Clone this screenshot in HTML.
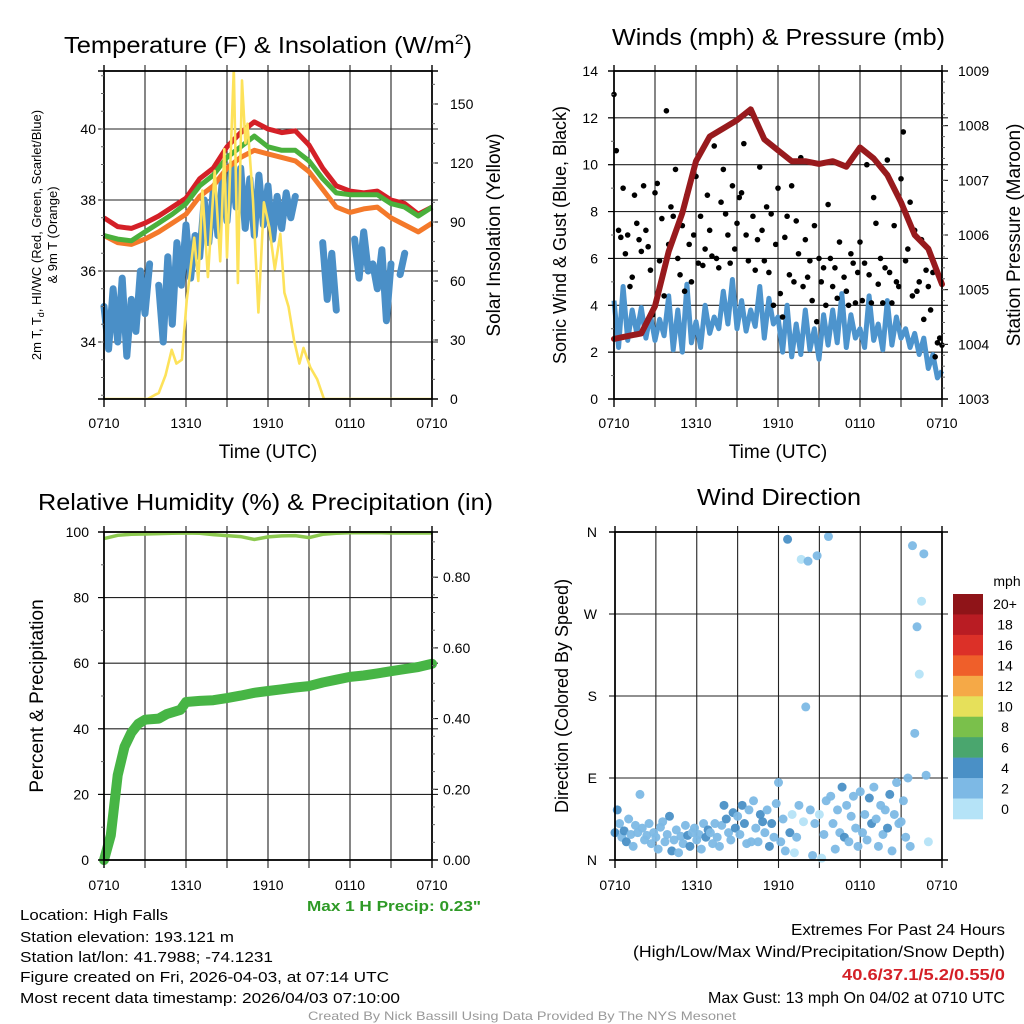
<!DOCTYPE html>
<html><head><meta charset="utf-8"><title>Mesonet Meteogram</title>
<style>
html,body{margin:0;padding:0;background:#fff;}
svg{display:block;font-family:"Liberation Sans",Arial,sans-serif;}
</style></head>
<body>
<svg id="chart" width="1024" height="1024" viewBox="0 0 1024 1024" xmlns="http://www.w3.org/2000/svg">
<rect width="1024" height="1024" fill="#fff"/>
<g id="bg"></g>
<g id="marks"></g>
<g id="axes"></g>
<!-- titles -->
<text x="64" y="53" font-size="23" textLength="408" lengthAdjust="spacingAndGlyphs">Temperature (F) &amp; Insolation (W/m<tspan dy="-9" font-size="14">2</tspan><tspan dy="9">)</tspan></text>
<text x="612" y="45" font-size="23" textLength="333" lengthAdjust="spacingAndGlyphs">Winds (mph) &amp; Pressure (mb)</text>
<text x="38" y="510" font-size="23" textLength="455" lengthAdjust="spacingAndGlyphs">Relative Humidity (%) &amp; Precipitation (in)</text>
<text x="697" y="505" font-size="23" textLength="164" lengthAdjust="spacingAndGlyphs">Wind Direction</text>
<!-- axis titles -->
<text transform="translate(41,235) rotate(-90)" text-anchor="middle" font-size="13">2m T, T<tspan font-size="9" dy="3">d</tspan><tspan dy="-3">, HI/WC (Red, Green, Scarlet/Blue)</tspan></text>
<text transform="translate(57,235) rotate(-90)" text-anchor="middle" font-size="13">&amp; 9m T (Orange)</text>
<text transform="translate(500,235) rotate(-90)" text-anchor="middle" font-size="19">Solar Insolation (Yellow)</text>
<text transform="translate(566,235) rotate(-90)" text-anchor="middle" font-size="18">Sonic Wind &amp; Gust (Blue, Black)</text>
<text transform="translate(1020,235) rotate(-90)" text-anchor="middle" font-size="19">Station Pressure (Maroon)</text>
<text transform="translate(43,696) rotate(-90)" text-anchor="middle" font-size="19">Percent &amp; Precipitation</text>
<text transform="translate(568,696) rotate(-90)" text-anchor="middle" font-size="18">Direction (Colored By Speed)</text>
<text x="268" y="458" text-anchor="middle" font-size="19">Time (UTC)</text>
<text x="778" y="458" text-anchor="middle" font-size="19">Time (UTC)</text>
<!-- footer -->
<g font-size="15">
<text x="20" y="920" textLength="148" lengthAdjust="spacingAndGlyphs">Location: High Falls</text>
<text x="20" y="942" textLength="214" lengthAdjust="spacingAndGlyphs">Station elevation: 193.121 m</text>
<text x="20" y="962" textLength="253" lengthAdjust="spacingAndGlyphs">Station lat/lon: 41.7988; -74.1231</text>
<text x="20" y="982" textLength="369" lengthAdjust="spacingAndGlyphs">Figure created on Fri, 2026-04-03, at 07:14 UTC</text>
<text x="20" y="1003" textLength="380" lengthAdjust="spacingAndGlyphs">Most recent data timestamp: 2026/04/03 07:10:00</text>
</g>
<text x="307" y="911" font-size="15" font-weight="bold" fill="#2e9a26" textLength="174" lengthAdjust="spacingAndGlyphs">Max 1 H Precip: 0.23"</text>
<text x="791" y="935" font-size="16" textLength="214" lengthAdjust="spacingAndGlyphs">Extremes For Past 24 Hours</text>
<text x="633" y="957" font-size="16" textLength="372" lengthAdjust="spacingAndGlyphs">(High/Low/Max Wind/Precipitation/Snow Depth)</text>
<text x="842" y="980" font-size="16" font-weight="bold" fill="#d42027" textLength="163" lengthAdjust="spacingAndGlyphs">40.6/37.1/5.2/0.55/0</text>
<text x="708" y="1003" font-size="16" textLength="297" lengthAdjust="spacingAndGlyphs">Max Gust: 13 mph On 04/02 at 0710 UTC</text>
<text x="308" y="1020" font-size="12" fill="#999" textLength="428" lengthAdjust="spacingAndGlyphs">Created By Nick Bassill Using Data Provided By The NYS Mesonet</text>
</svg>
<script>
// ---------- data ----------
const hourly = [0,1,2,3,4,5,6,7,8,9,10,11,12,13,14,15,16,17,18,19,20,21,22,23,24];
const xTickLabels = ["0710","1310","1910","0110","0710"];
const tempRed = [37.5,37.25,37.2,37.35,37.55,37.8,38.05,38.6,38.9,39.5,39.9,40.2,40.0,39.9,39.95,39.55,38.9,38.4,38.25,38.2,38.25,38.0,37.9,37.6,37.8];
const tempGreen = [37.0,36.9,36.85,37.1,37.35,37.6,37.9,38.4,38.7,39.2,39.5,39.8,39.5,39.4,39.4,39.1,38.6,38.2,38.15,38.15,38.15,37.9,37.8,37.55,37.8];
const tempOrange = [37.0,36.8,36.75,36.9,37.1,37.35,37.6,38.1,38.4,38.9,39.2,39.4,39.3,39.2,39.1,38.8,38.3,37.8,37.65,37.75,37.8,37.5,37.3,37.1,37.35];
const dewBlue = [35.0,33.8,35.5, 34.0,35.8,33.6, 35.2,34.3,36.0, 34.8,36.2,null, 35.6,34.0,36.4, 34.5,36.8,35.6, 37.3,35.8,37.0, 36.4,38.0,36.8, 38.3,37.0,38.6, 37.4,39.0,37.8, 38.9,37.2,38.6, 37.0,38.7,37.3, 38.4,36.9,38.1, 37.2,38.2,37.5, 38.1,null,null, null,null,null, 36.8,35.2,36.5, 34.9,null,37.0, null,36.9,35.8, 37.1,36.0,36.2, 35.5,36.6,34.6, 36.2,null,35.9, 36.5,null,null, null,null,null, null];
const solarHours = [0,3.2,3.7,4.0,4.5,4.95,5.3,5.7,6.05,6.6,6.9,7.2,7.6,8.1,8.5,8.8,9.0,9.5,9.8,10.1,10.35,10.5,10.9,11.3,11.7,12.1,12.5,12.9,13.2,13.5,13.9,14.3,14.6,15.1,15.6,16.1,24];
const solarVals = [0,0,2,3,12,25,18,20,50,82,60,106,62,116,70,127,72,168,59,162,130,140,101,44,100,87,66,84,54,47,30,18,26,16,10,0,0];
const sonicWind = [4.2,2.2,4.8,2.5,3.8,2.8,3.9,2.6,3.6,2.5,3.4,2.7, 4.4,2.1,3.8,2.0,4.9,2.4,3.3,2.2,4.0,2.8,3.5,3.0, 4.6,3.2,5.1,3.0,4.2,2.9,3.8,3.1,4.8,2.6,4.3,3.2, 3.5,2.0,4.0,1.8,3.2,1.9,3.8,2.1,3.0,1.7,3.6,2.3, 3.8,2.4,4.5,2.2,3.6,2.6,3.0,2.2,4.4,2.5,3.2,2.1, 4.2,2.3,3.5,2.6,3.0,2.2,2.8,1.9,2.6,1.3,1.9,0.9,1.2];
const gusts = [13.0,10.6,7.2,6.9,9.0,6.2, 7.0,4.8,5.2,8.7,7.5,6.8, 6.3,9.1,7.2,6.5,5.5,3.6, 8.8,9.2,5.9,7.7,4.4,12.3, 6.6,8.2,7.8,9.8,6.0,5.3, 7.4,4.6,8.7,6.6,5.0,7.0, 9.5,5.8,7.8,5.7,6.4,8.7, 7.2,6.1,10.8,6.0,5.6,8.4, 9.8,7.9,7.0,5.8,9.1,6.4, 7.5,8.6,8.8,10.9,7.0,5.9, 12.2,7.8,5.5,6.8,9.9,7.2, 5.9,8.2,5.4,7.9,4.0,6.6, 9.0,4.5,3.5,6.9,7.8,5.3, 9.1,5.0,7.6,6.2,10.3,4.8, 6.8,5.2,5.9,4.2,7.4,3.3, 6.0,5.0,5.6,4.0,8.3,6.0, 4.8,5.6,4.3,6.7,10.0,5.2, 4.6,4.0,6.2,5.8,4.1,5.4, 6.7,4.2,5.8,10.0,5.3,4.1, 8.6,7.5,4.9,6.0,4.1,5.6, 10.2,5.4,4.1,7.4,5.0,4.8, 9.4,11.4,5.9,6.4,8.4,4.4, 7.2,4.6,5.0,6.8,3.4,5.5, 4.8,3.8,5.4,1.8,2.4,2.6, 2.3];
const pressure = [1004.1,1004.15,1004.2,1004.7,1005.7,1006.4,1007.35,1007.8,1007.95,1008.1,1008.3,1007.75,1007.55,1007.35,1007.35,1007.3,1007.35,1007.25,1007.6,1007.4,1007.1,1006.6,1006.0,1005.75,1005.1];
const humidity = [98.0,99.0,99.3,99.4,99.5,99.6,99.7,99.6,99.2,98.9,98.6,97.7,98.5,98.8,98.9,98.3,99.3,99.6,99.8,99.8,99.8,99.7,99.7,99.7,99.7];
const precipHours = [0,0.5,1,1.5,2,2.5,3,4,4.6,5.6,6,7,8,9,10,11,12,13,14,15,16,17,18,19,20,21,22,23,24];
const precipVals = [0,0.07,0.24,0.32,0.36,0.385,0.397,0.40,0.413,0.425,0.447,0.45,0.452,0.458,0.465,0.473,0.478,0.483,0.488,0.492,0.502,0.51,0.518,0.522,0.528,0.534,0.54,0.546,0.555];
const windDirs = [30,55,40,25,32,20, 45,28,15,38,30,72, 35,22,27,40,18,30, 25,12,36,42,20,28, 48,10,22,33,8,26, 18,38,27,15,30,35, 22,28,12,40,25,33, 30,18,40,25,15,38, 60,45,30,22,52,35, 48,28,60,40,18,55, 20,65,35,20,50,42, 30,55,15,40,25,62, 85,20,45,10,352,30, 50,8,25,60,330,42, 168,328,55,5,40,334, 50,2,28,65,355,70, 40,12,55,30,80,25, 60,20,48,70,35,15, 75,30,50,22,68,40, 80,45,15,60,28,55, 35,72,10,50,85,40, 42,65,25,90,15,345, 139,256,204,284,336,93, 20];
const speedLabels = ["20+","18","16","14","12","10","8","6","4","2","0"];
const speedColors = ["#8f1418","#b91c23","#dc3028","#ef5f2a","#f5a947","#e6e05a","#7ac04b","#4aa66e","#4a90c6","#7db9e5","#b5e3f7"];

// ---------- helpers ----------
const NS = "http://www.w3.org/2000/svg";
const bg = document.getElementById("bg"), marks = document.getElementById("marks"), axes = document.getElementById("axes");
function mk(tag, parent, attrs){const e=document.createElementNS(NS,tag);for(const k in attrs)e.setAttribute(k,attrs[k]);parent.appendChild(e);return e;}
function lin(d0,d1,r0,r1){return v=>r0+(v-d0)*(r1-r0)/(d1-d0);}
function pathFrom(xsArr, ysArr, xf, yf){let d="",pen=false;for(let i=0;i<ysArr.length;i++){const v=ysArr[i];if(v===null||v===undefined){pen=false;continue;}d+=(pen?"L":"M")+xf(xsArr[i]).toFixed(1)+","+yf(v).toFixed(1);pen=true;}return d;}
function idxHours(n, step){const a=[];for(let i=0;i<n;i++)a.push(i*step);return a;}

function frame(P, name, hGridYs){
  const X=P.x0, Y=P.y0, W=P.x1-P.x0, H=P.y1-P.y0;
  for(let i=1;i<8;i++){const x=X+W*i/8;
    const g=mk("line",bg,{x1:x,x2:x,y1:Y-6,y2:P.y1+8,stroke:"#222","stroke-width":1.1});
    
    
  }
  hGridYs.forEach(y=>{
    const g=mk("line",bg,{x1:X-6,x2:P.x1+6,y1:y,y2:y,stroke:"#222","stroke-width":1.1});
    
    
  });
  const r=mk("rect",axes,{x:X,y:Y,width:W,height:H,fill:"none",stroke:"#000","stroke-width":1.6});
  
  
  [Y,P.y1].forEach(y=>{const t=mk("line",axes,{x1:X-6,x2:P.x1+6,y1:y,y2:y,stroke:"#000","stroke-width":1.4});
    
    });
  [X,P.x1].forEach(x=>{const t=mk("line",axes,{x1:x,x2:x,y1:Y-6,y2:P.y1+8,stroke:"#000","stroke-width":1.4});
    
    });
}
function xLabels(P, y, name){
  xTickLabels.forEach((s,i)=>{const x=P.x0+(P.x1-P.x0)*i/4;
    const t=mk("text",axes,{x:x,y:y,"text-anchor":"middle","font-size":14});t.textContent=s;
    
    
  });
}
function yLabels(vals, texts, yf, x, anchor, name, tickX1, tickX2){
  vals.forEach((v,i)=>{const y=yf(v);
    const t=mk("text",axes,{x:x,y:y+5,"text-anchor":anchor,"font-size":14});t.textContent=texts[i];
    
    
    const l=mk("line",axes,{x1:tickX1,x2:tickX2,y1:y,y2:y,stroke:"#000","stroke-width":1});
    
    
  });
}
function minorTicks(vals, yf, x1, x2, name){
  vals.forEach(v=>{const y=yf(v);const l=mk("line",axes,{x1:x1,x2:x2,y1:y,y2:y,stroke:"#666","stroke-width":1});
    
    });
}
function range(a,b,s){const r=[];for(let v=a;v<=b+1e-9;v+=s)r.push(+v.toFixed(4));return r;}

// ---------- panel 1: temperature ----------
const P1={x0:104,x1:432,y0:71,y1:399};
const x1f=lin(0,24,P1.x0,P1.x1);
const tY=lin(40,34,129,342);
const sY=lin(0,150,399,104);
frame(P1,"temperature",[tY(34),tY(36),tY(38),tY(40)]);
yLabels([34,36,38,40],["34","36","38","40"],tY,96,"end","temperature-y",P1.x0-5,P1.x0);
minorTicks(range(32.5,41.5,0.5),tY,P1.x0-3,P1.x0,"temperature-y");
yLabels([0,30,60,90,120,150],["0","30","60","90","120","150"],sY,450,"start","solar-y",P1.x1,P1.x1+6);
minorTicks(range(10,160,10),sY,P1.x1,P1.x1+3,"solar-y");
xLabels(P1,428,"temperature");
let p;
p=mk("path",marks,{d:pathFrom(idxHours(dewBlue.length,1/3),dewBlue,x1f,tY),fill:"none",stroke:"#4a8fc7","stroke-width":7,"stroke-linecap":"round","stroke-linejoin":"round"});


p=mk("path",marks,{d:pathFrom(hourly,tempOrange,x1f,tY),fill:"none",stroke:"#f4792a","stroke-width":5,"stroke-linejoin":"round"});


p=mk("path",marks,{d:pathFrom(hourly,tempRed,x1f,tY),fill:"none",stroke:"#d42027","stroke-width":5,"stroke-linejoin":"round"});


p=mk("path",marks,{d:pathFrom(hourly,tempGreen,x1f,tY),fill:"none",stroke:"#4ab03c","stroke-width":5,"stroke-linejoin":"round"});


const clip=mk("clipPath",marks,{id:"c1"});mk("rect",clip,{x:P1.x0,y:P1.y0,width:328,height:328});
p=mk("path",marks,{d:pathFrom(solarHours,solarVals,x1f,sY),fill:"none",stroke:"#fde25a","stroke-width":2.6,"stroke-linejoin":"round","clip-path":"url(#c1)"});



// ---------- panel 2: winds ----------
const P2={x0:614,x1:942,y0:71,y1:399};
const x2f=lin(0,24,P2.x0,P2.x1);
const wY=lin(0,14,399,71);
const pY=lin(1003,1009,399,71);
frame(P2,"winds",range(2,12,2).map(wY));
yLabels(range(0,14,2),range(0,14,2).map(String),wY,598,"end","wind-y",P2.x0-6,P2.x0);
minorTicks(range(1,13,2),wY,P2.x0-3,P2.x0,"wind-y");
yLabels(range(1003,1009,1),range(1003,1009,1).map(String),pY,958,"start","pressure-y",P2.x1,P2.x1+6);
minorTicks(range(1003.2,1008.8,0.2),pY,P2.x1,P2.x1+3,"pressure-y");
xLabels(P2,428,"winds");
p=mk("path",marks,{d:pathFrom(idxHours(sonicWind.length,1/3),sonicWind,x2f,wY),fill:"none",stroke:"#4d94cd","stroke-width":5,"stroke-linejoin":"round"});


const gH=idxHours(gusts.length,1/6);
gusts.forEach((g,i)=>{const c=mk("circle",marks,{cx:x2f(gH[i]),cy:wY(g),r:2.8,fill:"#000"});
  
  });
p=mk("path",marks,{d:pathFrom(hourly,pressure,x2f,pY),fill:"none",stroke:"#981a1d","stroke-width":6,"stroke-linejoin":"round","stroke-linecap":"round"});



// ---------- panel 3: humidity ----------
const P3={x0:104,x1:432,y0:532,y1:860};
const x3f=lin(0,24,P3.x0,P3.x1);
const hY=lin(0,100,860,532);
const rY=lin(0,0.2,860,789.3);
frame(P3,"humidity",range(20,80,20).map(hY));
yLabels(range(0,100,20),range(0,100,20).map(String),hY,89,"end","humidity-y",P3.x0-6,P3.x0);
minorTicks(range(10,90,20),hY,P3.x0-3,P3.x0,"humidity-y");
yLabels(range(0,0.8,0.2),["0.00","0.20","0.40","0.60","0.80"],rY,443,"start","precip-y",P3.x1,P3.x1+6);
minorTicks(range(0.05,0.9,0.05),rY,P3.x1,P3.x1+3,"precip-y");
xLabels(P3,890,"humidity");
p=mk("path",marks,{d:pathFrom(hourly,humidity,x3f,hY),fill:"none",stroke:"#8cc94f","stroke-width":3.5});


p=mk("path",marks,{d:pathFrom(precipHours,precipVals,x3f,rY),fill:"none",stroke:"#47b545","stroke-width":10,"stroke-linecap":"round","stroke-linejoin":"round"});



// ---------- panel 4: wind direction ----------
const P4={x0:615,x1:942,y0:532,y1:860};
const x4f=lin(0,24,P4.x0,P4.x1);
const dY=lin(0,360,860,532);
frame(P4,"direction",[dY(90),dY(180),dY(270)]);
yLabels([0,90,180,270,360],["N","E","S","W","N"],dY,597,"end","direction-y",P4.x0-6,P4.x0);
xLabels(P4,890,"direction");
const dH=idxHours(windDirs.length,1/6);
windDirs.forEach((d,i)=>{
  const sp=sonicWind[Math.min(sonicWind.length-1,Math.floor(i/2))];
  const bin=Math.min(10,Math.floor(sp/2));
  const c=mk("circle",marks,{cx:x4f(dH[i]),cy:dY(d),r:4.5,fill:speedColors[10-bin],opacity:0.95});
  
  
});
// colorbar
const cbTop=594, cbH=225/11;
speedColors.forEach((col,i)=>{
  const r=mk("rect",axes,{x:953,y:cbTop+i*cbH,width:30,height:cbH+0.3,fill:col});
  
  
  const t=mk("text",axes,{x:1005,y:cbTop+i*cbH+cbH/2+5,"text-anchor":"middle","font-size":14});t.textContent=speedLabels[i];
  
  
});
const mph=mk("text",axes,{x:1007,y:586,"text-anchor":"middle","font-size":14});mph.textContent="mph";


</script>
</body></html>
